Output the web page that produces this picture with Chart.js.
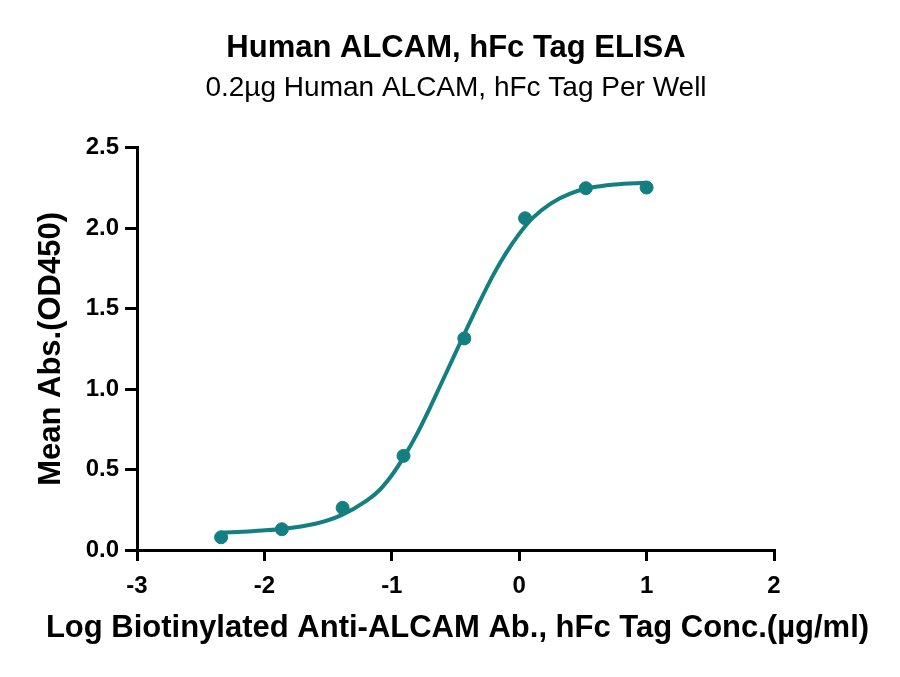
<!DOCTYPE html>
<html>
<head>
<meta charset="utf-8">
<script src="https://cdn.jsdelivr.net/npm/chart.js@4.4.1/dist/chart.umd.min.js"></script>
<style>
  html, body { margin: 0; padding: 0; background: #fff; }
  #wrap { width: 900px; height: 677px; }
</style>
</head>
<body>
<div id="wrap"><canvas id="myChart" width="900" height="677"></canvas></div>
<script>
// measured points: log10 concentration vs mean OD450
var logConc = [-2.340, -1.863, -1.386, -0.908, -0.431, 0.046, 0.523, 1.000];
var meanAbs = [0.079, 0.129, 0.262, 0.585, 1.315, 2.062, 2.249, 2.253];

// fitted curve
var curveX = [-2.34, -2.1, -1.867, -1.6, -1.4, -1.2, -1.1, -1.0, -0.9, -0.8, -0.7, -0.6, -0.5, -0.4, -0.3, -0.2, -0.1, 0.0, 0.1, 0.25, 0.4, 0.55, 0.75, 1.0];
var curveY = [0.108, 0.117, 0.130, 0.163, 0.215, 0.305, 0.370, 0.465, 0.585, 0.725, 0.885, 1.055, 1.225, 1.395, 1.560, 1.715, 1.850, 1.965, 2.060, 2.155, 2.215, 2.250, 2.272, 2.283];

var xTicks = [-3, -2, -1, 0, 1, 2];
var yTicks = [0, 0.5, 1, 1.5, 2, 2.5];

var xTitle = 'Log Biotinylated Anti-ALCAM Ab., hFc Tag Conc.(µg/ml)';
var teal = '#137f80';

function toXY(xs, ys) {
    return xs.map(function (x, i) { return { x: x, y: ys[i] }; });
}

// the built-in scale title squeezes text to the axis width, so draw it here
var xTitlePlugin = {
    id: 'xTitle',
    afterDraw: function (chart) {
        var c = chart.ctx;
        var area = chart.chartArea;
        c.save();
        c.font = 'bold 31px "Liberation Sans", Arial, sans-serif';
        c.fillStyle = '#000';
        c.textAlign = 'center';
        c.textBaseline = 'middle';
        c.fillText(xTitle, (area.left + area.right) / 2 + 2, 628);
        c.restore();
    }
};

Chart.defaults.font.family = '"Liberation Sans", Arial, sans-serif';
Chart.defaults.color = '#000';

var ctx = document.getElementById('myChart').getContext('2d');
var myChart = new Chart(ctx, {
    type: 'scatter',
    data: {
        datasets: [{
            label: 'Fit',
            data: toXY(curveX, curveY),
            showLine: true,
            borderColor: teal,
            borderWidth: 4,
            pointRadius: 0,
            cubicInterpolationMode: 'monotone'
        },
        {
            label: 'Mean Abs.',
            data: toXY(logConc, meanAbs),
            showLine: false,
            backgroundColor: teal,
            borderColor: teal,
            pointRadius: 6.5,
            pointHoverRadius: 6.5
        }]
    },
    plugins: [xTitlePlugin],
    options: {
        responsive: false,
        animation: false,
        layout: {
            padding: { left: 12, right: 0, top: 0, bottom: 0 }
        },
        plugins: {
            legend: { display: false },
            tooltip: { enabled: false },
            title: {
                display: true,
                text: 'Human ALCAM, hFc Tag ELISA',
                color: '#000',
                font: { size: 31, weight: 'bold' },
                padding: { top: 30, bottom: 0 }
            },
            subtitle: {
                display: true,
                text: '0.2µg Human ALCAM, hFc Tag Per Well',
                color: '#000',
                font: { size: 28 },
                padding: { top: 4, bottom: 43 }
            }
        },
        scales: {
            x: {
                type: 'linear',
                min: -3,
                max: 2,
                afterBuildTicks: function (axis) {
                    axis.ticks = xTicks.map(function (v) { return { value: v }; });
                },
                afterFit: function (axis) { axis.height = 127; },
                ticks: {
                    color: '#000',
                    font: { size: 24, weight: 'bold' },
                    padding: 11,
                    maxRotation: 0,
                    callback: function (v) { return String(v); }
                },
                grid: {
                    drawOnChartArea: false,
                    drawTicks: true,
                    tickLength: 11,
                    color: '#000',
                    lineWidth: 3
                },
                border: { color: '#000', width: 3 }
            },
            y: {
                type: 'linear',
                min: 0,
                max: 2.5,
                afterBuildTicks: function (axis) {
                    axis.ticks = yTicks.map(function (v) { return { value: v }; });
                },
                afterFit: function (axis) { axis.width = 125; },
                ticks: {
                    color: '#000',
                    font: { size: 24, weight: 'bold' },
                    padding: 6,
                    callback: function (v) { return v.toFixed(1); }
                },
                grid: {
                    drawOnChartArea: false,
                    drawTicks: true,
                    tickLength: 12,
                    color: '#000',
                    lineWidth: 3
                },
                border: { color: '#000', width: 3 },
                title: {
                    display: true,
                    text: 'Mean Abs.(OD450)',
                    color: '#000',
                    font: { size: 31, weight: 'bold' },
                    padding: { top: 21, bottom: 0 }
                }
            },
            // empty right-hand box so the plot ends where the reference does
            spacer: {
                type: 'linear',
                position: 'right',
                afterFit: function (axis) { axis.width = 126; },
                ticks: { display: false },
                grid: { display: false },
                border: { display: false }
            }
        }
    }
});
</script>
</body>
</html>
